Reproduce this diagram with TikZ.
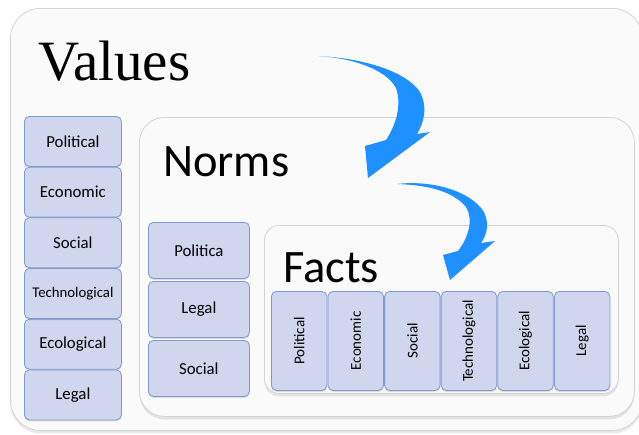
\documentclass[tikz,border=0pt]{standalone}
\usepackage{fontspec}
\setmainfont{Carlito}
\newfontfamily\serifv{Liberation Serif}
\usetikzlibrary{shadows}
\definecolor{cellfill}{HTML}{CFD6EE}
\definecolor{celledge}{HTML}{7F9AD2}
\definecolor{panelfill}{HTML}{FAFAFA}
\definecolor{paneledge}{HTML}{D4D4D4}
\definecolor{arrowblue}{HTML}{1E90FF}
\tikzset{
  panel/.style={draw=paneledge, fill=panelfill, line width=0.8pt, anchor=north west, inner sep=0pt,
    drop shadow={shadow xshift=0pt, shadow yshift=-3pt, opacity=0.18}},
  cell/.style={draw=celledge, fill=cellfill, line width=0.8pt, rounded corners=5pt, anchor=north west,
    inner sep=1pt, font=\fontsize{16.8}{18}\selectfont, text=black,
    drop shadow={shadow xshift=0pt, shadow yshift=-1.5pt, opacity=0.25}},
  vcell/.style={cell, minimum width=97pt, minimum height=50pt},
  ncell/.style={cell, minimum width=101pt, minimum height=56pt},
  fcell/.style={cell, minimum width=55.5pt, minimum height=99pt, font=\fontsize{15}{17}\selectfont},
  title/.style={anchor=base west, inner sep=0pt, text=black},
  bluearrow/.style={fill=arrowblue, draw=none}
}
\begin{document}
\begin{tikzpicture}[x=1pt, y=-1pt]
\useasboundingbox (0,0) rectangle (639,434);
\begin{scope}
\clip (0,0) rectangle (639,434);
% outer panel
\node[panel, rounded corners=30pt, minimum width=632pt, minimum height=422pt] (values) at (10,8) {};
\end{scope}
\node[title, font=\serifv\fontsize{57}{62}\selectfont] (vt) at (38,80) {Values};
% values column
\foreach \t/\i in {Political/0, Economic/1, Social/2, Ecological/4, Legal/5}{
  \node[vcell] (v\i) at (24,116+50.7*\i) {\t};
}
\node[vcell, font=\fontsize{14.8}{16}\selectfont] (v3) at (24,116+50.7*3) {Technological};
% norms panel
\node[panel, rounded corners=25pt, minimum width=495pt, minimum height=299pt] (norms) at (139,117) {};
\node[title, font=\fontsize{46.5}{50}\selectfont] (nt) at (163,176) {Norms};
\node[ncell] (n0) at (148,222) {Politica};
\node[ncell] (n1) at (148,281) {Legal};
\node[ncell] (n2) at (148,340) {Social};
% facts panel
\node[panel, rounded corners=15pt, minimum width=354pt, minimum height=168pt] (facts) at (264,225) {};
\node[title, font=\fontsize{46.5}{50}\selectfont] (ft) at (283,282) {Facts};
\foreach \t/\i in {Political/0, Economic/1, Social/2, Technological/3, Ecological/4, Legal/5}{
  \node[fcell] (f\i) at (271+56.6*\i,291) {\rotatebox{90}{\t}};
}
% curved block arrows
\fill[bluearrow] (318,56) .. controls (360,58) and (405,70) .. (420,92)
  .. controls (428,108) and (424,122) .. (417,134)
  -- (430,132) -- (368,178) -- (365,146) -- (386,140)
  .. controls (396,125) and (402,105) .. (396,88)
  .. controls (385,68) and (350,58) .. (318,56) -- cycle;
\fill[bluearrow] (397,184) .. controls (430,180) and (470,190) .. (484,212)
  .. controls (490,225) and (486,236) .. (481,243)
  -- (495,241) -- (450,280) -- (443,255) -- (458,251)
  .. controls (468,238) and (474,220) .. (466,207)
  .. controls (452,190) and (425,185) .. (397,184) -- cycle;
\end{tikzpicture}
\end{document}
